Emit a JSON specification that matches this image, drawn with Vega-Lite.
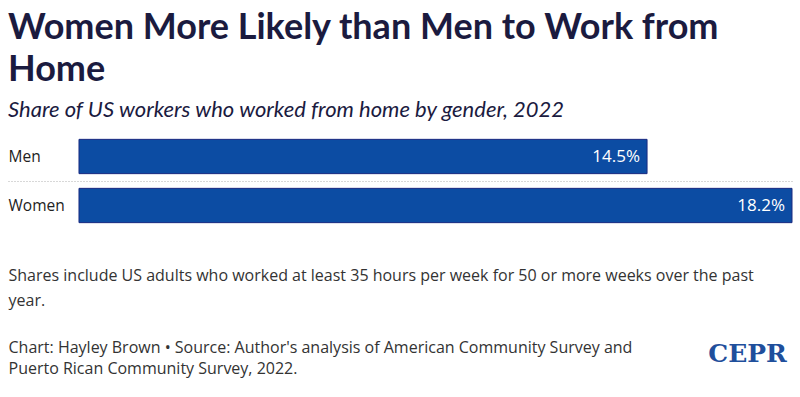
{
  "$schema": "https://vega.github.io/schema/vega-lite/v6.json",
  "width": 784,
  "height": 98,
  "padding": {"left": 8, "right": 8, "top": 10, "bottom": 20},
  "background": "white",
  "config": {"view": {"stroke": null}},
  "title": {
    "text": ["Women More Likely than Men to Work from", "Home"],
    "subtitle": "Share of US workers who worked from home by gender, 2022",
    "anchor": "start",
    "frame": "bounds",
    "font": "Lato",
    "fontSize": 36,
    "fontWeight": "bold",
    "color": "#1b1b3f",
    "lineHeight": 42,
    "subtitleFont": "Lato",
    "subtitleFontStyle": "italic",
    "subtitleFontSize": 22,
    "subtitleColor": "#1b1b3f",
    "subtitlePadding": 11,
    "offset": 10
  },
  "data": {
    "values": [
      {"gender": "Men", "share": 14.5, "label": "14.5%"},
      {"gender": "Women", "share": 18.2, "label": "18.2%"}
    ]
  },
  "encoding": {
    "x": {
      "field": "share",
      "type": "quantitative",
      "scale": {"domain": [-1.812, 18.2], "nice": false, "zero": false},
      "axis": {
        "title": [
          "Shares include US adults who worked at least 35 hours per week for 50 or more weeks over the past",
          "year."
        ],
        "titleAnchor": "start",
        "titleAlign": "left",
        "titleX": 0,
        "titleY": 50,
        "titleBaseline": "alphabetic",
        "titleFont": "Open Sans",
        "titleFontSize": 16,
        "titleFontWeight": "normal",
        "titleColor": "#333333",
        "titleLineHeight": 25,
        "labels": false,
        "ticks": false,
        "domain": false,
        "grid": false
      }
    }
  },
  "layer": [
    {
      "mark": {"type": "bar", "color": "#0c4ca3", "stroke": "#1a2a80", "strokeWidth": 1},
      "encoding": {
        "y": {
          "field": "gender",
          "type": "nominal",
          "sort": ["Men", "Women"],
          "scale": {"paddingInner": 0.3, "paddingOuter": 0.15},
          "axis": {
            "title": [
              "Chart: Hayley Brown • Source: Author's analysis of American Community Survey and",
              "Puerto Rican Community Survey, 2022."
            ],
            "titleAngle": 0,
            "titleX": 0,
            "titleY": 220,
            "titleAlign": "left",
            "titleBaseline": "alphabetic",
            "titleFont": "Open Sans",
            "titleFontSize": 16,
            "titleFontWeight": "normal",
            "titleColor": "#333333",
            "titleLineHeight": 21,
            "domain": false,
            "ticks": false,
            "labelAlign": "left",
            "labelPadding": 0,
            "labelOffset": 24.5,
            "tickOffset": -24.5,
            "labelFont": "Open Sans",
            "labelFontSize": 15.5,
            "labelColor": "#222222",
            "grid": true,
            "gridDash": [1, 2],
            "gridColor": "#b0b0b0",
            "gridOpacity": {"condition": {"test": "datum.value === 'Women'", "value": 1}, "value": 0}
          }
        }
      }
    },
    {
      "mark": {"type": "text", "align": "right", "dx": -7, "color": "white", "font": "Open Sans", "fontSize": 17},
      "encoding": {
        "text": {"field": "label"},
        "y": {
          "field": "gender",
          "type": "nominal",
          "sort": ["Men", "Women"],
          "axis": {
            "orient": "right",
            "title": "CEPR",
            "titleAngle": 0,
            "titleX": -45,
            "titleY": 229,
            "titleAlign": "center",
            "titleBaseline": "alphabetic",
            "titleFont": "DejaVu Serif",
            "titleFontSize": 25,
            "titleFontWeight": "bold",
            "titleColor": "#1f4f9c",
            "labels": false,
            "ticks": false,
            "domain": false,
            "grid": false
          }
        }
      }
    }
  ],
  "resolve": {"axis": {"y": "independent"}}
}
